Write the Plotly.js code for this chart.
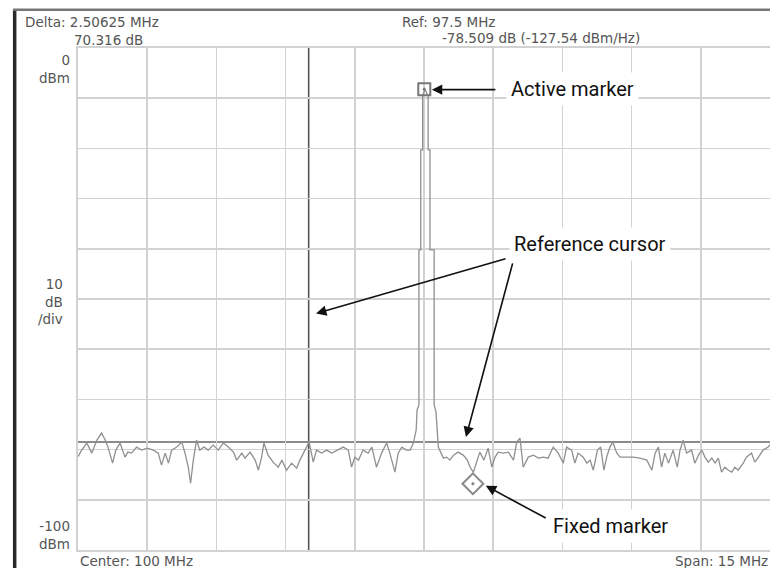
<!DOCTYPE html>
<html>
<head>
<meta charset="utf-8">
<script src="https://cdn.plot.ly/plotly-3.0.1.min.js"></script>
<style>
html,body{margin:0;padding:0;background:#fff;}
#chart{width:770px;height:568px;}
</style>
</head>
<body>
<div id="chart"></div>
<script>
// Spectrum trace: frequency (MHz) and level (dBm)
const freqMHz = [92.50,92.58,92.69,92.80,92.91,93.01,93.09,93.15,93.25,93.32,93.41,93.52,93.58,93.66,93.77,93.88,94.00,94.13,94.24,94.31,94.39,94.46,94.53,94.64,94.75,94.82,94.89,94.94,95.00,95.07,95.14,95.23,95.32,95.43,95.54,95.65,95.76,95.87,95.94,96.05,96.12,96.23,96.34,96.41,96.48,96.53,96.62,96.73,96.84,96.92,97.02,97.13,97.24,97.31,97.42,97.51,97.60,97.67,97.78,97.89,98.00,98.11,98.25,98.36,98.43,98.50,98.58,98.68,98.79,98.87,98.97,99.08,99.19,99.26,99.37,99.44,99.52,99.62,99.70,99.77,99.83,
  99.85,99.89,99.89,99.93,99.93,99.97,99.97,100.02,100.09,100.09,100.13,100.13,100.22,100.22,100.26,100.28,
  100.31,100.42,100.49,100.56,100.64,100.74,100.85,100.94,101.01,101.07,101.14,101.21,101.30,101.39,101.47,101.54,101.61,101.72,101.83,101.94,102.01,102.08,102.15,102.26,102.37,102.48,102.59,102.69,102.80,102.91,103.02,103.09,103.20,103.27,103.34,103.45,103.53,103.60,103.67,103.76,103.83,103.90,103.96,104.03,104.09,104.18,104.25,104.39,104.54,104.68,104.83,104.94,105.01,105.08,105.15,105.22,105.30,105.40,105.49,105.55,105.62,105.69,105.80,105.87,105.95,106.02,106.09,106.16,106.24,106.31,106.38,106.45,106.52,106.60,106.67,106.74,106.81,106.92,106.99,107.10,107.17,107.25,107.35,107.46,107.50];
const levelDBm = [-81.4,-80.1,-78.7,-80.7,-78.1,-76.7,-78.1,-79.5,-82.7,-80.1,-78.7,-81.5,-80.5,-80.7,-79.5,-80.1,-79.7,-80.1,-80.7,-83.1,-80.7,-82.7,-80.1,-79.5,-78.5,-80.7,-83.5,-86.7,-82.1,-78.1,-80.1,-79.5,-80.1,-79.1,-80.1,-78.7,-79.5,-80.5,-82.1,-80.7,-81.7,-80.5,-82.1,-84.1,-81.5,-78.7,-81.1,-82.5,-83.5,-82.1,-84.1,-82.7,-83.7,-82.1,-80.1,-78.5,-82.5,-80.1,-80.7,-80.1,-80.7,-80.1,-79.5,-80.1,-83.5,-81.5,-82.1,-80.1,-80.7,-79.5,-83.5,-80.7,-78.7,-80.7,-84.5,-80.7,-79.5,-80.1,-80.1,-78.7,-76.1,
  -72.1,-71.1,-40.2,-40.2,-20.3,-20.3,-9.6,-8.2,-9.6,-20.3,-20.3,-40.2,-40.2,-71.1,-72.5,-76.1,
  -79.5,-81.7,-81.5,-82.1,-81.1,-80.5,-81.1,-82.1,-83.7,-84.5,-82.7,-80.5,-82.1,-79.7,-83.5,-81.5,-80.5,-80.7,-80.5,-82.1,-78.5,-77.7,-83.5,-81.5,-81.1,-81.7,-81.5,-81.7,-79.5,-80.7,-82.7,-79.5,-80.1,-82.7,-80.7,-81.5,-82.7,-82.1,-84.1,-80.1,-79.5,-84.1,-81.5,-79.5,-78.5,-80.7,-81.5,-81.5,-81.5,-81.7,-82.1,-84.1,-80.7,-79.5,-83.5,-80.7,-82.7,-80.1,-83.5,-80.1,-78.1,-80.7,-80.1,-82.7,-81.1,-80.1,-81.5,-82.5,-81.7,-82.7,-81.7,-84.5,-83.5,-84.1,-84.5,-83.5,-84.1,-82.7,-81.5,-80.7,-82.5,-81.5,-80.1,-79.5,-79.0];

const centerMHz = 100, spanMHz = 15;
const refFreq = 97.5, refLevel = -78.509;
const deltaFreq = 2.50625, deltaDB = 70.316;
const activeMarker = {f: refFreq + deltaFreq, l: refLevel + deltaDB};
const fixedMarker = {f: 101.06, l: -86.8};
const yTop = 0, yBottom = -100, dbPerDiv = 10;

const xMin = centerMHz - spanMHz/2, xMax = centerMHz + spanMHz/2;
const smallFont = {family: "DejaVu Sans, Verdana, sans-serif", size: 13.5, color: "#555"};
const calloutFont = {family: "Liberation Sans Narrow, Roboto, Arial, sans-serif", size: 20, color: "#111"};

const traces = [
  {x: freqMHz, y: levelDBm, type: "scatter", mode: "lines",
   line: {color: "#909090", width: 1.3}, hoverinfo: "skip"},
  {x: [activeMarker.f], y: [activeMarker.l], type: "scatter", mode: "markers",
   marker: {symbol: "square-open-dot", size: 12, color: "#777", line: {width: 2, color: "#777"}}},
  {x: [fixedMarker.f], y: [fixedMarker.l], type: "scatter", mode: "markers",
   marker: {symbol: "diamond-open-dot", size: 16, color: "#888", line: {width: 2, color: "#888"}}}
];

function arrow(hx, hy, tx, ty) {
  return {x: hx, y: hy, ax: tx, ay: ty, xref: "x", yref: "y", axref: "x", ayref: "y",
    text: "", showarrow: true, arrowhead: 2, arrowsize: 1.3, arrowwidth: 1.6, arrowcolor: "#111", standoff: 0, startstandoff: 0};
}

const annotations = [
  {xref: "paper", yref: "paper", x: -0.0795, y: 1.052, xanchor: "left", yanchor: "middle", showarrow: false,
   text: "Delta: " + deltaFreq + " MHz", font: smallFont},
  {xref: "paper", yref: "paper", x: -0.0087, y: 1.016, xanchor: "left", yanchor: "middle", showarrow: false,
   text: deltaDB.toFixed(3) + " dB", font: smallFont},
  {xref: "paper", yref: "paper", x: 0.4653, y: 1.052, xanchor: "left", yanchor: "middle", showarrow: false,
   text: "Ref: " + refFreq + " MHz", font: smallFont},
  {xref: "paper", yref: "paper", x: 0.5231, y: 1.02, xanchor: "left", yanchor: "middle", showarrow: false,
   text: refLevel.toFixed(3) + " dB (-127.54 dBm/Hz)", font: smallFont},
  {xref: "paper", yref: "paper", x: -0.008, y: 0.958, xanchor: "right", yanchor: "middle", showarrow: false,
   text: yTop + "<br>dBm", align: "right", font: smallFont},
  {xref: "paper", yref: "paper", x: -0.019, y: 0.496, xanchor: "right", yanchor: "middle", showarrow: false,
   text: dbPerDiv + "<br>dB<br>/div", align: "right", font: smallFont},
  {xref: "paper", yref: "paper", x: -0.008, y: 0.030, xanchor: "right", yanchor: "middle", showarrow: false,
   text: yBottom + "<br>dBm", align: "right", font: smallFont},
  {xref: "paper", yref: "paper", x: 0.0, y: -0.022, xanchor: "left", yanchor: "middle", showarrow: false,
   text: "Center: " + centerMHz + " MHz", font: smallFont},
  {xref: "paper", yref: "paper", x: 1.0, y: -0.022, xanchor: "right", yanchor: "middle", showarrow: false,
   text: "Span: " + spanMHz + " MHz", font: smallFont},

  arrow(100.17, -8.3, 101.58, -8.3),
  arrow(97.66, -52.9, 101.80, -41.9),
  arrow(100.91, -77.5, 101.93, -42.6),
  arrow(101.34, -87.2, 102.67, -93.8),

  {x: 103.21, y: -8.2, xref: "x", yref: "y", showarrow: false, text: "Active marker",
   font: calloutFont, bgcolor: "#fff", borderpad: 4},
  {x: 103.60, y: -39.0, xref: "x", yref: "y", showarrow: false, text: "Reference cursor",
   font: calloutFont, bgcolor: "#fff", borderpad: 4},
  {x: 104.05, y: -95.2, xref: "x", yref: "y", showarrow: false, text: "Fixed marker",
   font: calloutFont, bgcolor: "#fff", borderpad: 4}
];

const shapes = [
  // reference cursor lines
  {type: "line", xref: "x", yref: "y", x0: refFreq, x1: refFreq, y0: yBottom, y1: yTop, line: {color: "#555", width: 1.6}, layer: "below"},
  {type: "line", xref: "x", yref: "y", x0: xMin, x1: xMax, y0: refLevel, y1: refLevel, line: {color: "#8c8c8c", width: 2}, layer: "below"},
  // outer frame of the screenshot
  {type: "line", xref: "paper", yref: "paper", x0: -0.0915, x1: -0.0915, y0: 1.076, y1: -0.05, line: {color: "#2a2a2a", width: 3.5}},
  {type: "line", xref: "paper", yref: "paper", x0: -0.094, x1: 1.01, y0: 1.076, y1: 1.076, line: {color: "#777", width: 2.5}}
];

const layout = {
  width: 770, height: 568,
  margin: {l: 78, r: 0, t: 48, b: 18, pad: 0},
  paper_bgcolor: "#fff", plot_bgcolor: "#fff",
  showlegend: false,
  xaxis: {range: [xMin, xMax], tick0: xMin, dtick: spanMHz/10, showticklabels: false, ticks: "",
          showgrid: true, gridcolor: "#d2d2d2", gridwidth: 1.6, zeroline: false,
          showline: true, linecolor: "#d2d2d2", linewidth: 1.6, mirror: true, fixedrange: true},
  yaxis: {range: [yBottom, yTop], tick0: yBottom, dtick: dbPerDiv, showticklabels: false, ticks: "",
          showgrid: true, gridcolor: "#d2d2d2", gridwidth: 1.6, zeroline: false,
          showline: true, linecolor: "#d2d2d2", linewidth: 1.6, mirror: true, fixedrange: true},
  annotations: annotations,
  shapes: shapes
};

Plotly.newPlot("chart", traces, layout, {displayModeBar: false, staticPlot: true});
</script>
</body>
</html>
